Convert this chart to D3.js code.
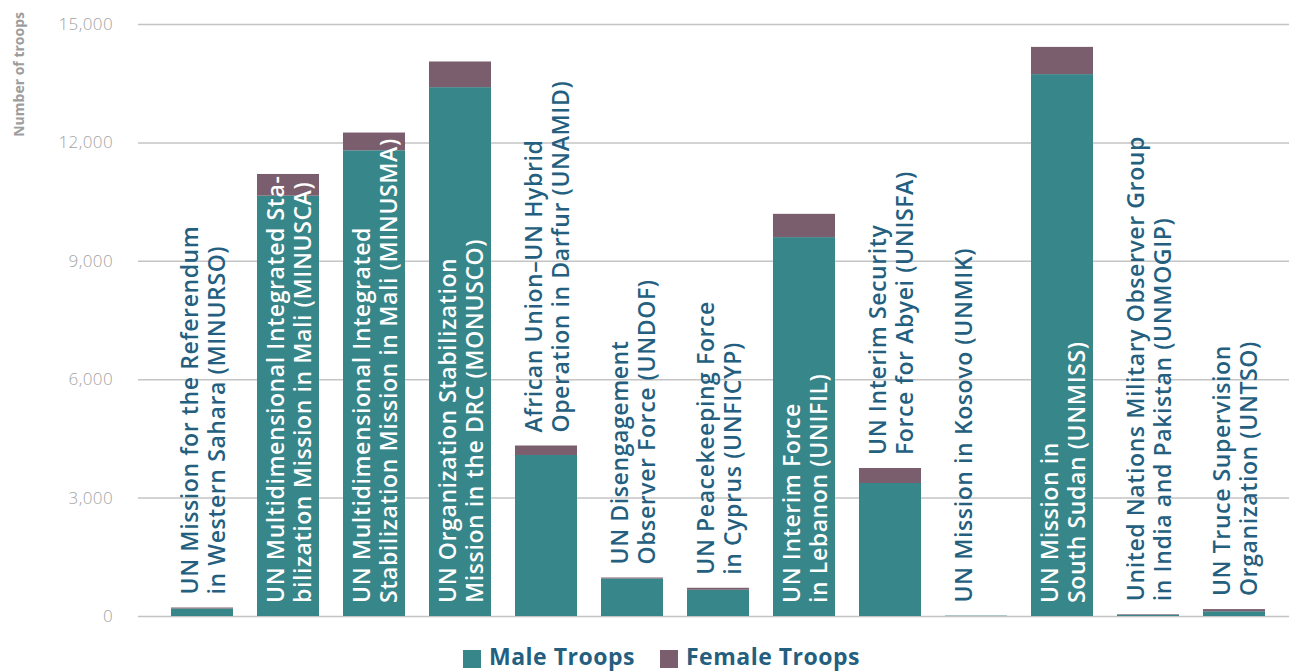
<!DOCTYPE html>
<html lang="en">
  <head>
    <meta charset="UTF-8" />
    <title>Troops by mission</title>
    <script src="https://d3js.org/d3.v7.min.js"></script>
    <style>
      body { margin: 0; background: #fff; }
      svg text { font-family: "Open Sans", sans-serif; }
    </style>
  </head>
  <body>
    <div id="chart"></div>
    <script>
      // Data
      const missions = [
        ["UN Mission for the Referendum", "in Western Sahara (MINURSO)"],
        ["UN Multidimensional Integrated Sta-", "bilization Mission in Mali (MINUSCA)"],
        ["UN Multidimensional Integrated", "Stabilization Mission in Mali (MINUSMA)"],
        ["UN Organization Stabilization", "Mission in the DRC (MONUSCO)"],
        ["African Union\u2013UN Hybrid", "Operation in Darfur (UNAMID)"],
        ["UN Disengagement", "Observer Force (UNDOF)"],
        ["UN Peacekeeping Force", "in Cyprus (UNFICYP)"],
        ["UN Interim Force", "in Lebanon (UNIFIL)"],
        ["UN Interim Security", "Force for Abyei (UNISFA)"],
        ["UN Mission in Kosovo (UNMIK)"],
        ["UN Mission in", "South Sudan (UNMISS)"],
        ["United Nations Military Observer Group", "in India and Pakistan (UNMOGIP)"],
        ["UN Truce Supervision", "Organization (UNTSO)"]
      ];
      const maleTroops = [190, 10650, 11800, 13400, 4080, 950, 665, 9600, 3370, 8, 13730, 30, 120];
      const femaleTroops = [25, 550, 450, 650, 240, 25, 50, 590, 380, 2, 690, 15, 55];
      const yTicks = [0, 3000, 6000, 9000, 12000, 15000];
      const seriesNames = ["Male Troops", "Female Troops"];

      const width = 1289;
      const height = 671;
      const colors = ["#37868a", "#7b5e6d"];
      const labelColor = "#245f80";

      const svg = d3.select("#chart").append("svg")
        .attr("width", width).attr("height", height);

      const x = d3.scaleBand()
        .domain(d3.range(missions.length))
        .range([159, 159 + 13 * 86])
        .paddingInner(0.279)
        .paddingOuter(0.1395);

      const y = d3.scaleLinear().domain([0, 15000]).range([616, 24]);

      // gridlines + tick labels
      const yAxis = d3.axisLeft(y).tickValues(yTicks)
        .tickSize(-(width - 138)).tickPadding(25)
        .tickFormat(d3.format(","));
      const gy = svg.append("g").attr("transform", "translate(138,0)").call(yAxis);
      gy.select(".domain").remove();
      gy.selectAll(".tick line").attr("stroke", "#c4c4c4").attr("stroke-width", 1.5);
      gy.selectAll(".tick text")
        .attr("fill", "#a3a3a3").attr("font-size", 17).attr("font-weight", 300)
        .attr("letter-spacing", 0.4);

      svg.append("text")
        .attr("transform", "translate(24,12) rotate(-90)")
        .attr("text-anchor", "end")
        .attr("fill", "#9d9d9d").attr("font-size", 14).attr("font-weight", 700)
        .text("Number of troops");

      // stacked bars
      const rows = missions.map((m, i) => ({ i, male: maleTroops[i], female: femaleTroops[i] }));
      const stack = d3.stack().keys(["male", "female"])(rows);
      svg.append("g").selectAll("g").data(stack).join("g")
        .attr("fill", (d, k) => colors[k])
        .selectAll("rect").data(d => d).join("rect")
        .attr("x", d => x(d.data.i))
        .attr("width", x.bandwidth())
        .attr("y", d => y(d[1]))
        .attr("height", d => y(d[0]) - y(d[1]));

      // rotated labels
      missions.forEach((lines, i) => {
        const total = maleTroops[i] + femaleTroops[i];
        const inside = total > 9000;
        const startY = inside ? y(0) - 13 : y(total) - 13;
        const g = svg.append("g")
          .attr("transform", `translate(${x(i)},${startY}) rotate(-90)`);
        lines.forEach((line, j) => {
          g.append("text")
            .attr("x", 0)
            .attr("y", 27 + 27 * j)
            .attr("fill", inside ? "#ffffff" : labelColor)
            .attr("font-size", 23).attr("font-weight", 600)
            .attr("letter-spacing", 0.6)
            .text(line);
        });
      });

      // legend
      const legendX = [463, 660];
      seriesNames.forEach((name, k) => {
        svg.append("rect")
          .attr("x", legendX[k]).attr("y", 650)
          .attr("width", 18).attr("height", 18)
          .attr("fill", colors[k]);
        svg.append("text")
          .attr("x", legendX[k] + 26).attr("y", 665)
          .attr("fill", labelColor).attr("font-size", 23).attr("font-weight", 700)
          .attr("letter-spacing", 0.5)
          .text(name);
      });
    </script>
  </body>
</html>
